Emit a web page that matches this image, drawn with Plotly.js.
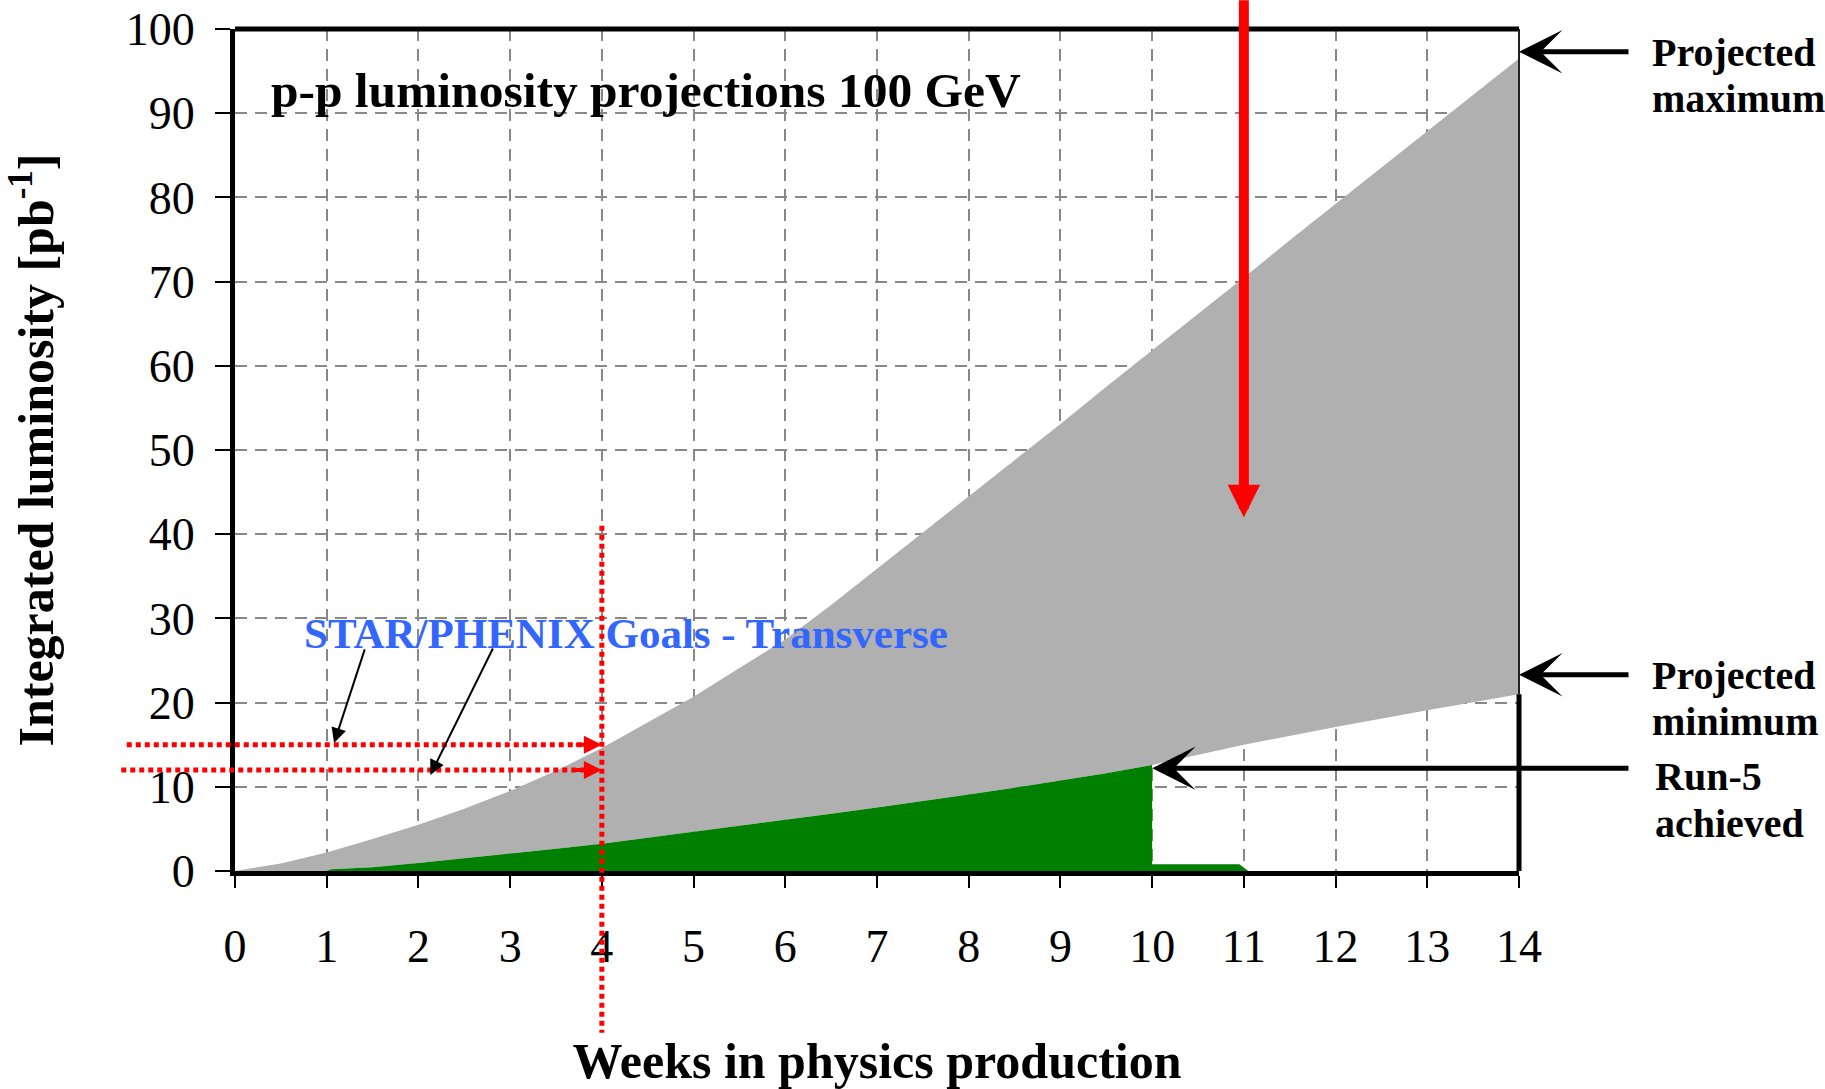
<!DOCTYPE html>
<html>
<head>
<meta charset="utf-8">
<script src="https://cdn.plot.ly/plotly-3.0.1.min.js"></script>
<style>
  html, body { margin: 0; padding: 0; background: #ffffff; }
  #chart { width: 1825px; height: 1089px; }
</style>
</head>
<body>
<div id="chart"></div>
<script>
// ---------------- data ----------------
const weeks = [0, 0.5, 1, 1.5, 2, 2.5, 3, 3.5, 4, 4.5, 5, 5.5, 6, 6.5, 7,
               7.5, 8, 8.5, 9, 9.5, 10, 10.5, 11, 11.5, 12, 12.5, 13, 13.5, 14];
const projectedMax = [0, 0.9, 2.2, 3.8, 5.5, 7.4, 9.5, 11.9, 14.6, 17.6, 20.7, 24.1, 27.5, 31.6, 35.9,
                      40.1, 44.4, 48.8, 53.1, 57.5, 61.8, 66.2, 70.5, 74.9, 79.2, 83.6, 87.9, 92.2, 96.5];

const achievedWeeks = [0, 1.0, 1.05, 1.5, 2, 2.5, 3, 3.5, 4, 4.5, 5, 5.5, 6, 6.5, 7, 7.5, 8, 8.5, 9, 9.5, 10];
const achievedLum   = [0, 0, 0.2, 0.45, 0.95, 1.5, 2.1, 2.65, 3.25, 3.95, 4.65, 5.35, 6.05, 6.8, 7.55, 8.3, 9.1, 9.9, 10.75, 11.6, 12.6];

const afterRunWeeks = [10, 10.95, 11.05];
const afterRunLum   = [0.8, 0.8, 0];

const projMinWeeks = [10, 11, 12, 13, 14];
const projMinLum   = [12.8, 15.0, 17.1, 19.1, 21.0];

const xTicks = [0, 1, 2, 3, 4, 5, 6, 7, 8, 9, 10, 11, 12, 13, 14];
const yTicks = [0, 10, 20, 30, 40, 50, 60, 70, 80, 90, 100];

const goalWeek = 4;
const goalLum = [15, 12];          // STAR/PHENIX goals (upper, lower)
const redArrowWeek = 11;
const redArrowTip = 42;
const maxMarker = 97.3;
const minMarker = 23.3;
const run5Marker = 12.2;
const run5Week = 10;

// --------------- derived series ---------------
const lowerEdgeX = achievedWeeks.concat(projMinWeeks.slice(1));
const lowerEdgeY = achievedLum.concat(projMinLum.slice(1));
const greenX = achievedWeeks.concat(afterRunWeeks);
const greenY = achievedLum.concat(afterRunLum);

const xRange = [0, 14];
const yRange = [0, 100];
const px = w => (w - xRange[0]) / (xRange[1] - xRange[0]);
const py = v => (v - yRange[0]) / (yRange[1] - yRange[0]);

const FONT = 'Liberation Serif, Times New Roman, serif';
const RED = '#ff0000';

const traces = [
  { x: lowerEdgeX, y: lowerEdgeY, type: 'scatter', mode: 'lines',
    line: { width: 0, color: '#b0b0b0' }, hoverinfo: 'skip', showlegend: false },
  { x: weeks, y: projectedMax, type: 'scatter', mode: 'lines', fill: 'tonexty',
    fillcolor: '#b0b0b0', line: { width: 0, color: '#b0b0b0' }, showlegend: false },
  { x: greenX, y: greenY, type: 'scatter', mode: 'lines', fill: 'tozeroy',
    fillcolor: '#008000', line: { width: 0, color: '#008000' }, showlegend: false }
];

const lastMin = projMinLum[projMinLum.length - 1];

const shapes = [
  // frame: top and right edges (right edge thin where the grey band touches it)
  { type: 'line', xref: 'paper', yref: 'paper', x0: 0, x1: 1, y0: 1, y1: 1,
    line: { color: '#000000', width: 5 }, layer: 'above' },
  { type: 'line', xref: 'paper', yref: 'paper', x0: 1, x1: 1, y0: 0, y1: py(lastMin),
    line: { color: '#000000', width: 5 }, layer: 'above' },
  { type: 'line', xref: 'paper', yref: 'paper', x0: 1, x1: 1, y0: py(lastMin), y1: 1,
    line: { color: '#222222', width: 2 }, layer: 'above' },
  // vertical dotted goal line at week 4
  { type: 'line', xref: 'paper', yref: 'paper', x0: px(goalWeek), x1: px(goalWeek),
    y0: py(41), y1: py(-19.2), line: { color: RED, width: 5, dash: '5px,4px' }, layer: 'above' },
  // horizontal dotted goal lines
  { type: 'line', xref: 'paper', yref: 'paper', x0: px(-1.18), x1: px(goalWeek - 0.12),
    y0: py(goalLum[0]), y1: py(goalLum[0]), line: { color: RED, width: 5, dash: '5px,4px' }, layer: 'above' },
  { type: 'line', xref: 'paper', yref: 'paper', x0: px(-1.24), x1: px(goalWeek - 0.12),
    y0: py(goalLum[1]), y1: py(goalLum[1]), line: { color: RED, width: 5, dash: '5px,4px' }, layer: 'above' }
];

const arrowAnn = (x, y, ax, ay, color, width, head, size) => ({
  x: x, y: y, ax: ax, ay: ay, xref: 'x', yref: 'y', axref: 'x', ayref: 'y',
  text: '', showarrow: true, arrowcolor: color, arrowwidth: width,
  arrowhead: head, arrowsize: size, standoff: 0
});

const labelAnn = (x, y, text, size, color) => ({
  x: x, y: y, xref: 'paper', yref: 'paper', xanchor: 'left', yanchor: 'middle',
  text: text, showarrow: false, align: 'left',
  font: { family: FONT, size: size, color: color, weight: 'bold' }
});

const annotations = [
  // big red arrow
  arrowAnn(redArrowWeek, redArrowTip, redArrowWeek, 103.6, RED, 10, 2, 0.65),
  // goal arrowheads
  arrowAnn(goalWeek, goalLum[0], goalWeek - 0.3, goalLum[0], RED, 4, 2, 0.9),
  arrowAnn(goalWeek, goalLum[1], goalWeek - 0.3, goalLum[1], RED, 4, 2, 0.9),
  // thin black pointers from the goals label
  arrowAnn(1.08, 15.2, 1.42, 26.5, '#000000', 2, 2, 1.5),
  arrowAnn(2.13, 11.4, 2.82, 26.6, '#000000', 2, 2, 1.5),
  // right-side black arrows
  arrowAnn(14, maxMarker, 15.21, maxMarker, '#000000', 5, 3, 1.45),
  arrowAnn(14, minMarker, 15.21, minMarker, '#000000', 5, 3, 1.45),
  arrowAnn(run5Week, run5Marker, 15.21, run5Marker, '#000000', 5, 3, 1.45),
  // labels (one line each, for tight line spacing)
  labelAnn(1.102, 0.9725, 'Projected', 40, '#000000'),
  labelAnn(1.102, 0.9175, 'maximum', 40, '#000000'),
  labelAnn(1.102, 0.232, 'Projected', 40, '#000000'),
  labelAnn(1.102, 0.177, 'minimum', 40, '#000000'),
  labelAnn(1.104, 0.112, 'Run-5', 40, '#000000'),
  labelAnn(1.104, 0.057, 'achieved', 40, '#000000'),
  labelAnn(0.052, 0.2815, 'STAR/PHENIX Goals - Transverse', 43, '#3366ff')
];

const axisCommon = {
  showline: true, linecolor: '#000000', linewidth: 5, mirror: false,
  ticks: 'outside', tickcolor: '#000000', tickwidth: 2,
  showgrid: true, gridcolor: '#888888', gridwidth: 2, griddash: '12px,8px',
  zeroline: false, tickmode: 'array', fixedrange: true,
  tickfont: { family: FONT, size: 46, color: '#000000' }
};

const layout = {
  width: 1825, height: 1089,
  margin: { l: 235, r: 306, t: 29, b: 218 },
  paper_bgcolor: '#ffffff', plot_bgcolor: '#ffffff',
  showlegend: false,
  title: {
    text: 'p-p luminosity projections 100 GeV',
    xref: 'paper', yref: 'paper', x: 0.028, y: 0.928, xanchor: 'left', yanchor: 'middle',
    font: { family: FONT, size: 49.5, color: '#000000', weight: 'bold' }
  },
  xaxis: Object.assign({}, axisCommon, {
    range: xRange, tickvals: xTicks, ticktext: xTicks.map(String), ticklen: 12,
    ticklabelstandoff: 19,
    title: { text: 'Weeks in physics production', standoff: 84,
             font: { family: FONT, size: 50, color: '#000000', weight: 'bold' } }
  }),
  yaxis: Object.assign({}, axisCommon, {
    range: yRange, tickvals: yTicks, ticktext: yTicks.map(String), ticklen: 15,
    ticklabelstandoff: 11,
    title: { text: 'Integrated luminosity [pb<sup>-1</sup>]', standoff: 58,
             font: { family: FONT, size: 50, color: '#000000', weight: 'bold' } }
  }),
  shapes: shapes,
  annotations: annotations
};

Plotly.newPlot('chart', traces, layout, { displayModeBar: false, staticPlot: true });
</script>
</body>
</html>
